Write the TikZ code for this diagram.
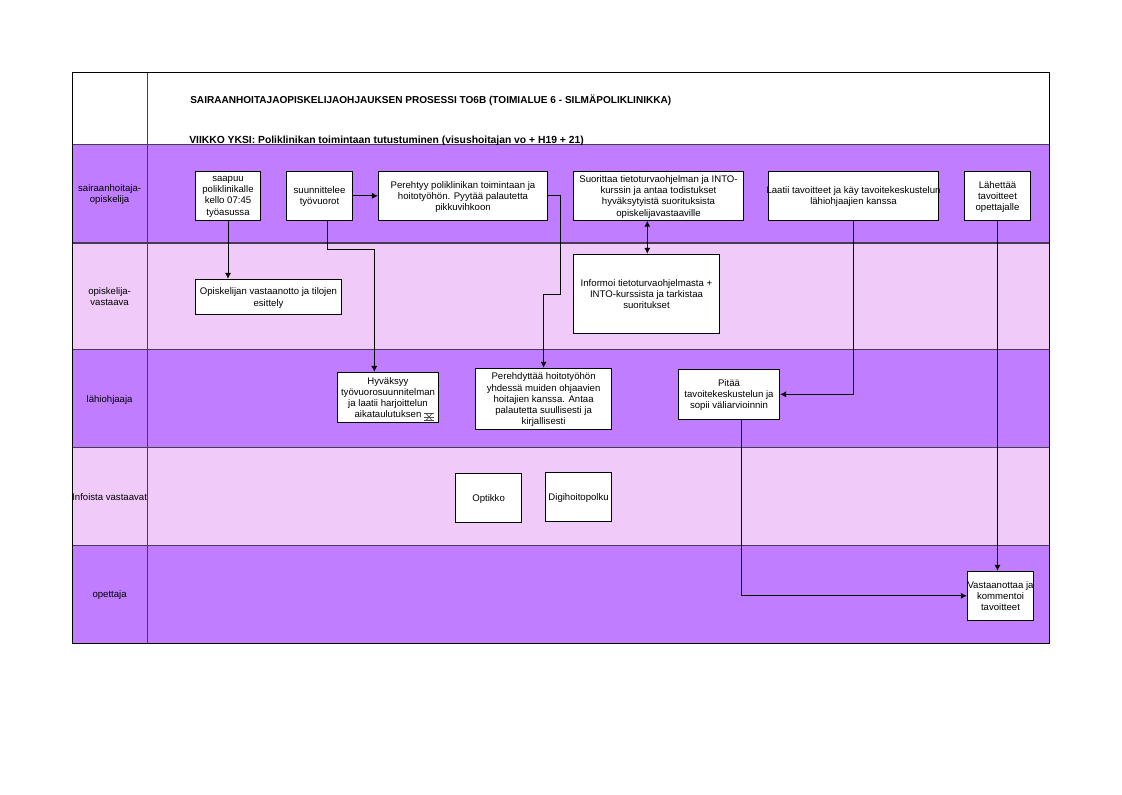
\documentclass[tikz,border=0pt]{standalone}
\usepackage{fontspec}
\setmainfont{Liberation Sans}
\usetikzlibrary{arrows.meta}
\definecolor{laneDark}{HTML}{C17DFF}
\definecolor{laneLight}{HTML}{F0CBF9}
\definecolor{laneRule}{HTML}{4A3A5A}
\tikzset{
    stepbox/.style={draw=black, fill=white, line width=0.75pt, inner sep=0pt, align=center, text depth=-2pt, font=\fontsize{7.2}{8.4}\selectfont},
    lanelabel/.style={inner sep=0pt, align=center, text depth=-2pt, font=\fontsize{7.2}{8.4}\selectfont},
    titletext/.style={inner sep=0pt, anchor=west, font=\bfseries\fontsize{7.55}{8.6}\selectfont},
    flow/.style={draw=black, line width=0.75pt, -{Latex[length=4.4pt,width=4.6pt]}},
    flowboth/.style={draw=black, line width=0.75pt, {Latex[length=4.4pt,width=4.6pt]}-{Latex[length=4.4pt,width=4.6pt]}}
}
\begin{document}
\begin{tikzpicture}[x=0.75pt, y=-0.75pt]
    \useasboundingbox (0,0) rectangle (1122,794);
    % Lanes
    \foreach \i/\ytop/\ybot/\col/\txt in {
        1/144.7/243/laneDark/{sairaanhoitaja-\\opiskelija},
        2/243/349.7/laneLight/{opiskelija-\\vastaava},
        3/349.7/447.7/laneDark/{lähiohjaaja},
        4/447.7/545.7/laneLight/{Infoista vastaavat},
        5/545.7/643/laneDark/{opettaja}}{
        \fill[\col] (72.5,\ytop) rectangle (1049.5,\ybot);
        \node[lanelabel] (lane\i) at (109.6,{(\ytop+\ybot)/2}) {\txt};
    }
    \foreach \y in {144.7,243,349.7,447.7,545.7}{
        \draw[laneRule, line width=1pt] (72.5,\y) -- (1049.5,\y);
    }
    \draw[laneRule, line width=0.9pt] (147.7,72.3) -- (147.7,644);
    \draw[black, line width=0.75pt] (72.5,72.3) rectangle (1049.5,643);

    % Title
    \node[titletext] (title) at (190,100) {SAIRAANHOITAJAOPISKELIJAOHJAUKSEN PROSESSI TO6B (TOIMIALUE 6 - SILMÄPOLIKLINIKKA)};
    \node[titletext, font=\bfseries\fontsize{7.75}{8.6}\selectfont] (week) at (189,141) {VIIKKO YKSI: Poliklinikan toimintaan tutustuminen (visushoitajan vo + H19 + 21)};

    % Steps
    \node[stepbox, minimum width=49pt, minimum height=36.8pt] (saapuu) at (228,195.8) {saapuu\\poliklinikalle\\kello 07:45\\työasussa};
    \node[stepbox, minimum width=49.8pt, minimum height=36.8pt] (suun) at (319.5,195.8) {suunnittelee\\työvuorot};
    \node[stepbox, minimum width=127pt, minimum height=36.8pt] (pereh) at (463,195.8) {Perehtyy poliklinikan toimintaan ja\\hoitotyöhön. Pyytää palautetta\\pikkuvihkoon};
    \node[stepbox, minimum width=127.8pt, minimum height=36.8pt] (suor) at (658.5,195.8) {Suorittaa tietoturvaohjelman ja INTO-\\kurssin ja antaa todistukset\\hyväksytyistä suorituksista\\opiskelijavastaaville};
    \node[stepbox, minimum width=127.8pt, minimum height=36.8pt] (laatii) at (853.5,195.8) {\makebox[0pt]{Laatii tavoitteet ja käy tavoitekeskustelun}\\lähiohjaajien kanssa};
    \node[stepbox, minimum width=49.8pt, minimum height=36.8pt] (lahetys) at (997.5,195.8) {Lähettää\\tavoitteet\\opettajalle};
    \node[stepbox, minimum width=109.8pt, minimum height=26.6pt] (vastaanotto) at (268.5,297) {Opiskelijan vastaanotto ja tilojen\\esittely};
    \node[stepbox, minimum width=109.8pt, minimum height=59.6pt] (informoi) at (646.5,294) {Informoi tietoturvaohjelmasta +\\INTO-kurssista ja tarkistaa\\suoritukset};
    \node[stepbox, minimum width=75.8pt, minimum height=37.8pt] (hyvaksyy) at (388,397.5) {Hyväksyy\\työvuorosuunnitelman\\ja laatii harjoittelun\\aikataulutuksen};
    \node[stepbox, minimum width=102.3pt, minimum height=45.8pt] (perehdyttaa) at (543.6,398.8) {Perehdyttää hoitotyöhön\\yhdessä muiden ohjaavien\\hoitajien kanssa. Antaa\\palautetta suullisesti ja\\kirjallisesti};
    \node[stepbox, minimum width=76pt, minimum height=37.5pt] (pitaa) at (729,394.3) {Pitää\\tavoitekeskustelun ja\\sopii väliarvioinnin};
    \node[stepbox, minimum width=49.8pt, minimum height=36.8pt] (optikko) at (488.6,497.8) {Optikko};
    \node[stepbox, minimum width=49.8pt, minimum height=36.8pt] (digi) at (578.6,497) {Digihoitopolku};
    \node[stepbox, minimum width=49.8pt, minimum height=36.8pt] (vastaanottaa) at (1000.5,595.8) {\makebox[0pt]{Vastaanottaa ja}\\kommentoi\\tavoitteet};

    % Link mark in the corner of hyvaksyy
    \begin{scope}[shift={(429,417)}, draw=black!70, line width=0.5pt]
        \draw (-5,-3.5) -- (5,-3.5) (-5,3.5) -- (5,3.5) (-5,0) -- (5,0);
        \draw (-3,-3.5) -- (3,3.5) (3,-3.5) -- (-3,3.5);
    \end{scope}

    % Connectors
    \draw[flow] (saapuu.south) -- (saapuu.south |- vastaanotto.north);
    \draw[flow] ([xshift=5.85pt]suun.south) -- ++(0,29) -| ([xshift=-10.3pt]hyvaksyy.north);
    \draw[flow] (suun.east) -- (pereh.west);
    \draw[flow] (pereh.east) -- ++(12.6,0) -- ++(0,98.6) -| (perehdyttaa.north);
    \draw[flowboth] ([xshift=0.6pt]informoi.north) -- ([xshift=0.6pt]informoi.north |- suor.south);
    \draw[flow] (laatii.south) |- (pitaa.east);
    \draw[flow] (lahetys.south) -- (lahetys.south |- vastaanottaa.north);
    \draw[flow] ([xshift=9.2pt]pitaa.south) |- (vastaanottaa.west);
\end{tikzpicture}
\end{document}
